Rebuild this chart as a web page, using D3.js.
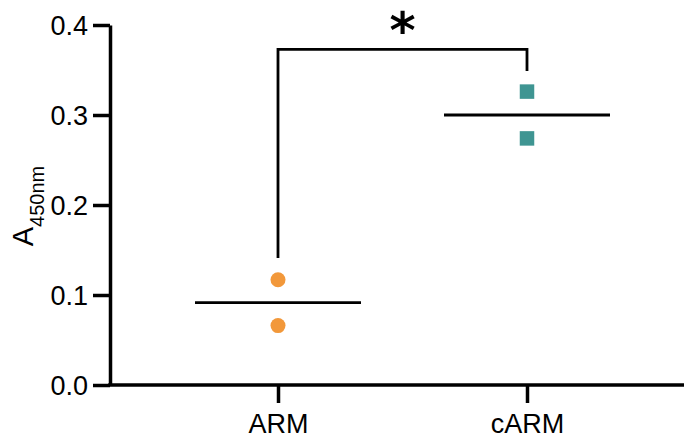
<!DOCTYPE html>
<html>
<head>
<meta charset="utf-8">
<script src="https://cdn.jsdelivr.net/npm/d3@7"></script>
<style>
  html, body { margin: 0; padding: 0; background: #fff; }
  text { font-family: "Liberation Sans", Arial, Helvetica, sans-serif; fill: #000; }
</style>
</head>
<body>
<svg id="chart" width="684" height="438"></svg>
<script>
// Groups and replicate absorbance readings
const categories = ["ARM", "cARM"];
const armValues = [0.117, 0.066];
const carmValues = [0.326, 0.274];
const groupColors = ["#F2983A", "#3F9592"];
const yTicks = [0.0, 0.1, 0.2, 0.3, 0.4];
// Significance bracket: top height and where each leg stops
const bracketTop = 0.373;
const bracketLegEnds = [0.141, 0.349];
const significanceLabel = "*";

const groups = [
  { name: categories[0], values: armValues, color: groupColors[0], shape: "circle" },
  { name: categories[1], values: carmValues, color: groupColors[1], shape: "square" }
];

const svg = d3.select("#chart");
const axisLeftX = 110, axisRightX = 684;
const y = d3.scaleLinear().domain([0, 0.4]).range([385, 25]);
const x = d3.scalePoint().domain(categories).range([278, 527]);

// Y axis
const yAxis = svg.append("g")
  .attr("transform", `translate(${axisLeftX},0)`)
  .call(d3.axisLeft(y).tickValues(yTicks).tickFormat(d3.format(".1f"))
    .tickSize(17).tickSizeOuter(0).tickPadding(5));
yAxis.select(".domain").attr("stroke-width", 3.5).attr("stroke", "#000");
yAxis.selectAll(".tick line").attr("stroke-width", 3.5).attr("stroke", "#000");
yAxis.selectAll(".tick text").style("font-size", "27px").attr("dy", "0.36em");

// X axis: baseline across the full width plus category ticks
const xAxis = svg.append("g")
  .attr("transform", `translate(0,${y(0)})`)
  .call(d3.axisBottom(x).tickSize(18).tickSizeOuter(0).tickPadding(11));
xAxis.select(".domain").remove();
xAxis.insert("line", ":first-child")
  .attr("x1", axisLeftX - 1.75).attr("x2", axisRightX)
  .attr("stroke", "#000").attr("stroke-width", 3.5);
xAxis.selectAll(".tick line").attr("stroke-width", 3.5).attr("stroke", "#000");
xAxis.selectAll(".tick text").style("font-size", "27px").attr("dy", "0.72em");

// Y axis title with subscript
const yTitle = svg.append("text")
  .attr("transform", `translate(33,${(y(0) + y(0.4)) / 2 + 1}) rotate(-90)`)
  .attr("text-anchor", "middle");
yTitle.append("tspan").style("font-size", "29px").text("A");
yTitle.append("tspan").style("font-size", "20px").attr("dy", 11).text("450nm");

// Group means
const meanHalf = 83;
svg.selectAll(".mean")
  .data(groups)
  .join("line")
  .attr("class", "mean")
  .attr("x1", d => x(d.name) - meanHalf)
  .attr("x2", d => x(d.name) + meanHalf)
  .attr("y1", d => y(d3.mean(d.values)))
  .attr("y2", d => y(d3.mean(d.values)))
  .attr("stroke", "#000").attr("stroke-width", 2.8);

// Replicate points
groups.forEach(g => {
  const pts = svg.append("g").selectAll("path")
    .data(g.values)
    .join("path")
    .attr("transform", v => `translate(${x(g.name)},${y(v)})`)
    .attr("fill", g.color);
  if (g.shape === "circle") {
    pts.attr("d", d3.symbol(d3.symbolCircle, Math.PI * 7.5 * 7.5));
  } else {
    pts.attr("d", d3.symbol(d3.symbolSquare, 14.5 * 14.5));
  }
});

// Significance bracket
const bracket = d3.path();
bracket.moveTo(x(categories[0]), y(bracketLegEnds[0]));
bracket.lineTo(x(categories[0]), y(bracketTop));
bracket.lineTo(x(categories[1]), y(bracketTop));
bracket.lineTo(x(categories[1]), y(bracketLegEnds[1]));
svg.append("path")
  .attr("d", bracket.toString())
  .attr("fill", "none").attr("stroke", "#000")
  .attr("stroke-width", 2.8).attr("stroke-linejoin", "miter");

svg.append("text")
  .attr("x", (x(categories[0]) + x(categories[1])) / 2)
  .attr("y", y(bracketTop) - 1)
  .attr("text-anchor", "middle")
  .style("font-family", "'DejaVu Sans', sans-serif")
  .style("font-weight", "bold")
  .style("font-size", "50px")
  .text(significanceLabel);
</script>
</body>
</html>
